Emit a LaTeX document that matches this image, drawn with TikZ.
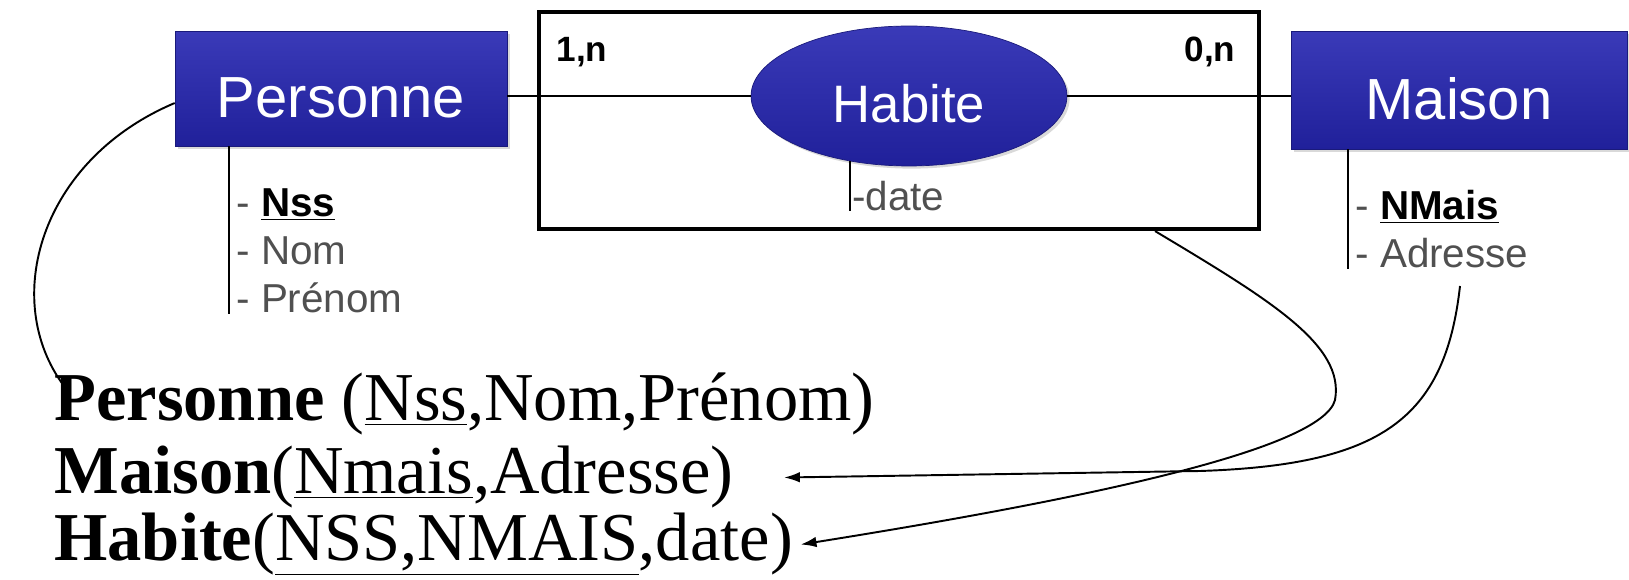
\documentclass[tikz,border=0pt]{standalone}
\usepackage{fontspec}
\setmainfont{Liberation Serif}
\setsansfont{Liberation Sans}
\usepackage{tikz}
\usepackage{xcolor}
\usetikzlibrary{shapes.geometric,arrows.meta,shadows}
\definecolor{ErBlue}{HTML}{20209A}
\definecolor{ErBlueLight}{HTML}{3A3AB8}
\definecolor{ErGray}{HTML}{505050}
\newcommand{\keyattr}[1]{\textcolor{black}{\textbf{\underline{#1}}}}

\begin{document}
\begin{tikzpicture}[x=0.02cm, y=-0.02cm,
  entity/.style={rectangle, draw=ErBlue!80!black, top color=ErBlueLight, bottom color=ErBlue,
    text=white, font=\sffamily\fontsize{33}{37}\selectfont, inner sep=0pt, text height=1.18cm,
    drop shadow={shadow xshift=1.5pt, shadow yshift=-1.5pt, opacity=0.3}},
  relation/.style={ellipse, draw=ErBlue!80!black, top color=ErBlueLight, bottom color=ErBlue,
    text=white, font=\sffamily\fontsize{30}{34}\selectfont, inner sep=0pt, text height=1.08cm,
    minimum width=6.32cm, minimum height=2.8cm,
    drop shadow={shadow xshift=1.5pt, shadow yshift=-1.5pt, opacity=0.3}},
  attrs/.style={anchor=north west, align=left, text=ErGray, inner xsep=4pt, inner ysep=0pt,
    font=\sffamily\fontsize{23}{27.5}\selectfont},
  card/.style={font=\sffamily\bfseries\fontsize{20}{24}\selectfont},
  schema/.style={anchor=base west, inner sep=0pt, font=\fontsize{39}{44}\selectfont},
  link/.style={line width=1.1pt, -{Latex[length=9pt,width=6pt]}}
]
  \useasboundingbox (0,0) rectangle (1629,580);

  % Association frame and entities
  \node[draw, line width=2.4pt, minimum width=14.4cm, minimum height=4.34cm] (assoc) at (899,120.5) {};
  \node[entity, minimum width=6.64cm, minimum height=2.3cm] (personne) at (341,88.5) {Personne};
  \node[entity, minimum width=6.72cm, minimum height=2.36cm] (maison) at (1459,90) {Maison};
  \node[relation] (habite) at (909,96) {Habite};

  % Links with cardinalities
  \draw[line width=1.3pt] (habite.west) -- (habite.west -| personne.east);
  \draw[line width=1.3pt] (habite.east) -- (habite.east -| maison.west);
  \node[card] (card_p) at (582,52) {1,n};
  \node[card] (card_m) at (1210,52) {0,n};

  % Attributes
  \node[attrs] (p_attrs) at (229,188) {- \keyattr{Nss}\\- Nom\\- Prénom};
  \node[attrs] (m_attrs) at (1348,190) {- \keyattr{NMais}\\- Adresse};
  \node[attrs, inner xsep=1pt] (h_attrs) at (850,181) {-date};
  \draw[line width=1.1pt] (p_attrs.west |- personne.south) -- (p_attrs.south west);
  \draw[line width=1.1pt] (m_attrs.west |- maison.south) -- (m_attrs.south west);
  \draw[line width=1.1pt] (habite.-132) -- (habite.-132 |- h_attrs.south);

  % Relational schema
  \node[schema] (r_pers) at (54,421) {\textbf{Personne} (\underline{Nss},Nom,Prénom)};
  \node[schema] (r_mais) at (54,494) {\textbf{Maison}(\underline{Nmais},Adresse)};
  \node[schema] (r_hab) at (54,561) {\textbf{Habite}(\underline{NSS,NMAIS},date)};

  % Translation curves
  \coordinate (p_end) at (64,386);
  \coordinate (m_out) at (1460,286);
  \draw[line width=1.1pt] (personne.-175) .. controls (40,160) and (0,300) .. (p_end);
  \draw[link] ([xshift=-2.12cm]assoc.south east) .. controls (1270,300) and (1345,345) .. (1335,400)
    .. controls (1322,450) and (1080,500) .. ([xshift=0.15cm]r_hab.east);
  \draw[link] (m_out) .. controls (1445,420) and (1380,465) .. (1200,471)
    -- ([xshift=1cm]r_mais.east);
\end{tikzpicture}
\end{document}
